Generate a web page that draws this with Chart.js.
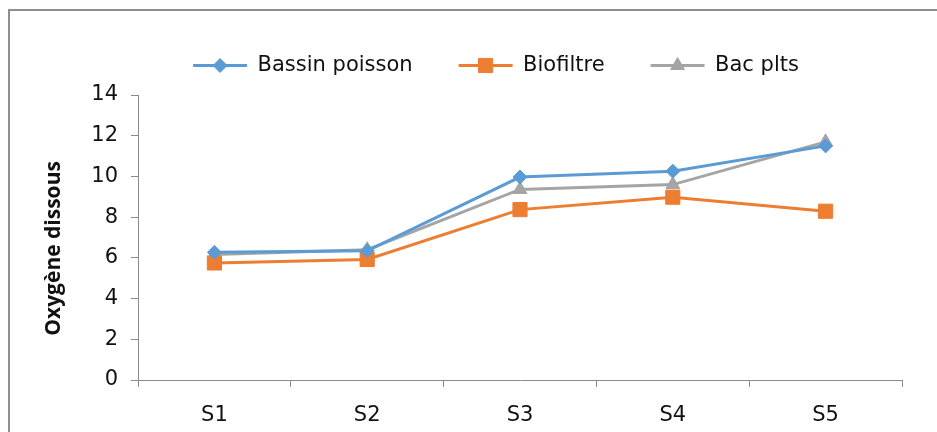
<!DOCTYPE html>
<html>
<head>
<meta charset="utf-8">
<script src="https://cdn.jsdelivr.net/npm/chart.js@4"></script>
<style>
  html, body { margin: 0; padding: 0; background: #fff; }
  #wrap { position: relative; width: 937px; height: 432px; overflow: hidden; }
  #frame {
    position: absolute; left: 8px; top: 9px; right: -10px; bottom: -10px;
    border-left: 2px solid #8f8f8f; border-top: 2px solid #8f8f8f;
    pointer-events: none;
  }
  canvas { position: absolute; left: 0; top: 0; }
</style>
</head>
<body>
<div id="wrap">
  <canvas id="chart" width="937" height="432"></canvas>
  <div id="frame"></div>
</div>
<script>
// data
const categories = ["S1", "S2", "S3", "S4", "S5"];
const bassinPoisson = [6.27, 6.35, 9.97, 10.26, 11.5];
const biofiltre = [5.75, 5.92, 8.37, 8.98, 8.29];
const bacPlts = [6.16, 6.4, 9.36, 9.6, 11.7];
const yTicks = [0, 2, 4, 6, 8, 10, 12, 14];

const FONT = "'DejaVu Sans', sans-serif";
const TITLE_FONT = "'Open Sans', 'DejaVu Sans', sans-serif";
const AXIS = "#8a8a8a";

// markers on the legend lines, more room under the legend, legend nudged right
const legendMarkers = {
  id: "legendMarkers",
  beforeLayout(chart) {
    const lg = chart.legend;
    if (lg && !lg._grown) {
      const fit = lg.fit.bind(lg);
      lg.fit = function () { fit(); this.height += 9; };
      lg._grown = true;
    }
  },
  afterLayout(chart) {
    const lg = chart.legend;
    if (!lg) return;
    lg.left += 45;
    lg.right += 45;
  },
  afterDraw(chart) {
    const lg = chart.legend;
    if (!lg || !lg.legendHitBoxes) return;
    const bw = lg.options.labels.boxWidth;
    const ctx = chart.ctx;
    lg.legendHitBoxes.forEach((box, i) => {
      const ds = chart.data.datasets[i];
      ctx.save();
      ctx.fillStyle = ds.pointBackgroundColor;
      ctx.strokeStyle = ds.pointBorderColor;
      ctx.lineWidth = 1;
      Chart.helpers.drawPoint(ctx, {
        pointStyle: ds.pointStyle,
        radius: ds.pointRadius,
        rotation: 0,
        borderWidth: 1
      }, box.left + bw / 2, box.top + box.height / 2);
      ctx.restore();
    });
  }
};

function series(label, data, color, style, radius) {
  return {
    label: label,
    data: data,
    borderColor: color,
    backgroundColor: color,
    borderWidth: 3,
    pointStyle: style,
    pointRadius: radius,
    pointHoverRadius: radius,
    pointBackgroundColor: color,
    pointBorderColor: color,
    pointBorderWidth: 1,
    tension: 0,
    fill: false
  };
}

new Chart(document.getElementById("chart"), {
  type: "line",
  data: {
    labels: categories,
    datasets: [
      series("Bassin poisson", bassinPoisson, "#5b9bd5", "rectRot", 7),
      series("Biofiltre", biofiltre, "#ed7d31", "rect", 10),
      series("Bac plts", bacPlts, "#a5a5a5", "triangle", 8)
    ]
  },
  options: {
    responsive: false,
    animation: false,
    layout: { padding: { top: 9, right: 35, bottom: 0, left: 0 } },
    plugins: {
      legend: {
        position: "top",
        labels: {
          font: { family: FONT, size: 21 },
          color: "#111",
          boxWidth: 54,
          boxHeight: 3,
          padding: 46,
          generateLabels: c => Chart.defaults.plugins.legend.labels.generateLabels(c)
            .map(l => Object.assign(l, { lineWidth: 0 }))
        }
      },
      tooltip: { enabled: false }
    },
    scales: {
      x: {
        offset: true,
        grid: { display: true, drawOnChartArea: false, drawTicks: true, tickLength: 7, tickColor: AXIS, offset: true },
        border: { display: true, color: AXIS, width: 1 },
        ticks: { font: { family: FONT, size: 21 }, color: "#111", padding: 16 },
        afterFit: s => { s.height = 52; }
      },
      y: {
        min: 0,
        max: 14,
        afterBuildTicks: s => { s.ticks = yTicks.map(v => ({ value: v })); },
        grid: { display: true, drawOnChartArea: false, drawTicks: true, tickLength: 7, tickColor: AXIS },
        border: { display: true, color: AXIS, width: 1 },
        ticks: { font: { family: FONT, size: 21 }, color: "#111", padding: 13 },
        title: {
          display: true,
          // trailing spaces push the centred title a little lower, as in the picture
          text: "Oxygène dissous    ",
          font: { family: TITLE_FONT, size: 21, weight: "bold" },
          color: "#111",
          padding: { top: 41, bottom: 0 }
        },
        afterFit: s => { s.width = 138; }
      }
    }
  },
  plugins: [legendMarkers]
});
</script>
</body>
</html>
